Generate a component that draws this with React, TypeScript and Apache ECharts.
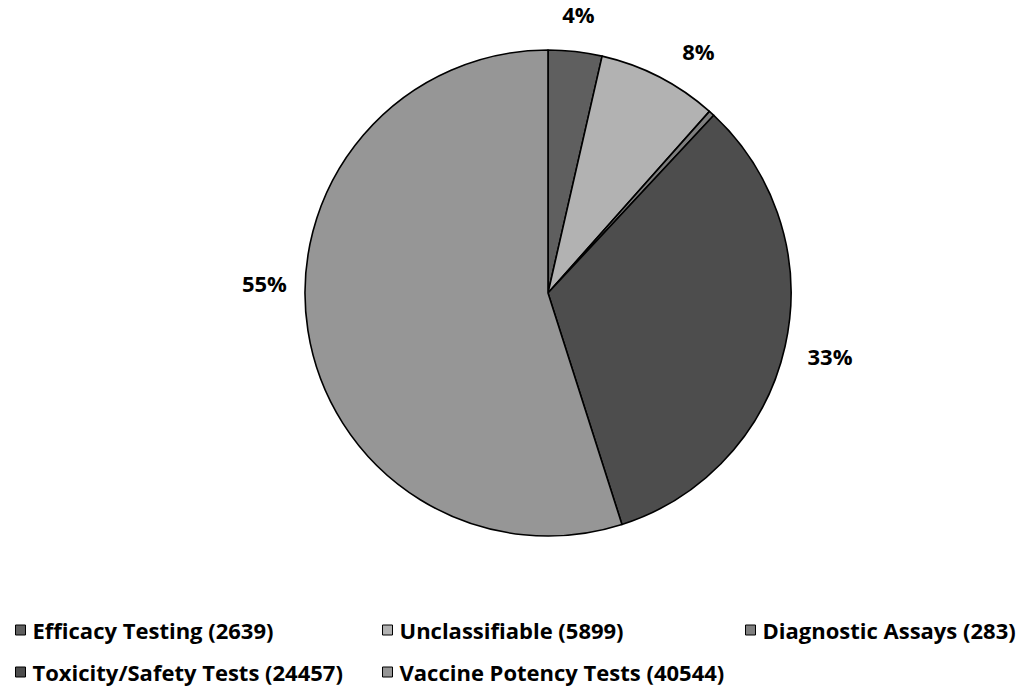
import React, { useEffect, useRef } from "react";
import * as echarts from "echarts";

const categories = [
  "Efficacy Testing",
  "Unclassifiable",
  "Diagnostic Assays",
  "Toxicity/Safety Tests",
  "Vaccine Potency Tests",
];
const values = [2639, 5899, 283, 24457, 40544];
const colors = ["#5f5f5f", "#b2b2b2", "#7f7f7f", "#4d4d4d", "#969696"];

const FONT = "'Open Sans', Lato, sans-serif";

export default function App() {
  const ref = useRef<HTMLDivElement>(null);
  useEffect(() => {
    document.body.style.margin = "0";
    const chart = echarts.init(ref.current!, null, { renderer: "svg" });
    const names = categories.map((c, i) => `${c} (${values[i]})`);
    const total = values.reduce((a, b) => a + b, 0);
    const labelNudge: Array<[number, number]> = [
      [-2, 8],
      [18, 15],
      [0, 0],
      [0, 0],
      [2, -55],
    ];
    const legendPos: Array<[number, number]> = [
      [10, 614],
      [377, 614],
      [740, 614],
      [10, 656],
      [377, 656],
    ];
    const option = {
      animation: false,
      backgroundColor: "#ffffff",
      legend: names.map((n, i) => ({
        data: [n],
        left: legendPos[i][0],
        top: legendPos[i][1],
        icon: "rect",
        itemWidth: 10,
        itemHeight: 10,
        selectedMode: false,
        itemStyle: { borderColor: "#000", borderWidth: 1 },
        textStyle: {
          fontFamily: FONT,
          fontWeight: "bold",
          fontSize: 22,
          color: "#000",
          padding: [0, 0, 0, 2],
        },
      })),
      series: [
        {
          type: "pie",
          center: [548, 293],
          radius: [0, 243],
          startAngle: 90,
          clockwise: true,
          silent: true,
          label: { show: false },
          labelLine: { show: false },
          itemStyle: { borderColor: "#000", borderWidth: 1.6 },
          data: names.map((n, i) => ({
            name: n,
            value: values[i],
            itemStyle: { color: colors[i] },
          })),
        },
        {
          type: "pie",
          center: [548, 293],
          radius: [262, 310],
          startAngle: 90,
          clockwise: true,
          silent: true,
          itemStyle: { color: "transparent" },
          labelLine: { show: false },
          label: {
            position: "inside",
            fontFamily: FONT,
            fontWeight: "bold",
            fontSize: 22,
            color: "#000",
            formatter: (p: any) => `${Math.round(p.percent)}%`,
          },
          labelLayout: (p: any) => ({
            dx: labelNudge[p.dataIndex][0],
            dy: labelNudge[p.dataIndex][1],
          }),
          data: names.map((n, i) => ({
            name: "lbl" + i,
            value: values[i],
            label: { show: Math.round((values[i] / total) * 100) > 0 },
          })),
        },
      ],
    };
    chart.setOption(option as any);
    return () => chart.dispose();
  }, []);
  return <div ref={ref} style={{ width: 1023, height: 687 }} />;
}
